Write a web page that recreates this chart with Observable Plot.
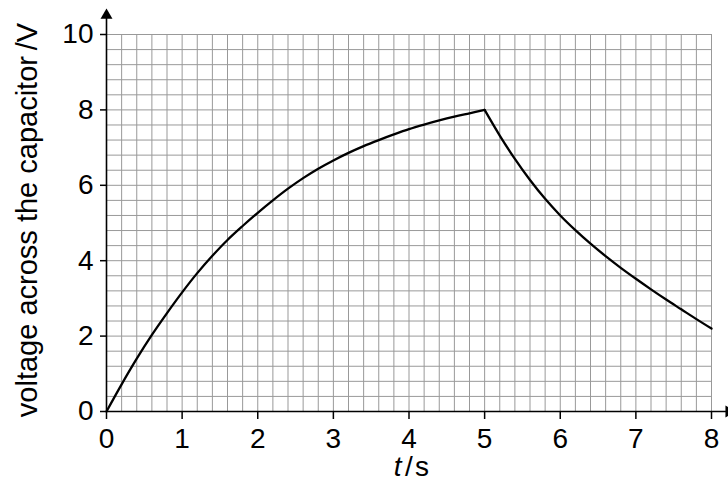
<!DOCTYPE html>
<html>
<head>
<meta charset="utf-8">
<script src="https://cdn.jsdelivr.net/npm/d3@7"></script>
<script src="https://cdn.jsdelivr.net/npm/@observablehq/plot@0.6"></script>
<style>
  html, body { margin: 0; padding: 0; background: #ffffff; overflow: hidden; }
</style>
</head>
<body>
<div id="chart"></div>
<script>
// Charging phase (t in s, V in volts)
const T_CHARGE = [0, 0.2, 0.4, 0.6, 0.8, 1.0, 1.2, 1.4, 1.6, 1.8, 2.0, 2.2, 2.4, 2.6, 2.8, 3.0, 3.2, 3.4, 3.6, 3.8, 4.0, 4.2, 4.4, 4.6, 4.8, 5.0];
const V_CHARGE = [0, 0.72, 1.4, 2.03, 2.61, 3.16, 3.67, 4.13, 4.55, 4.92, 5.27, 5.6, 5.91, 6.19, 6.44, 6.66, 6.86, 7.04, 7.2, 7.35, 7.49, 7.61, 7.72, 7.82, 7.91, 8.0];
// Discharging phase
const T_DISCHARGE = [5.0, 5.2, 5.4, 5.6, 5.8, 6.0, 6.2, 6.4, 6.6, 6.8, 7.0, 7.2, 7.4, 7.6, 7.8, 8.0];
const V_DISCHARGE = [8.0, 7.32, 6.7, 6.14, 5.64, 5.2, 4.81, 4.45, 4.12, 3.81, 3.52, 3.24, 2.97, 2.71, 2.45, 2.2];

const X_TICKS = [0, 1, 2, 3, 4, 5, 6, 7, 8];
const Y_TICKS = [0, 2, 4, 6, 8, 10];
const X_LABEL_T = "t";
const X_LABEL_UNIT = "/\u200As";
const Y_LABEL = "voltage across the capacitor\u2009/V";

const X_GRID = d3.range(0, 41).map(i => i * 0.2);   // every 0.2 s
const Y_GRID = d3.range(0, 26).map(i => i * 0.4);   // every 0.4 V

const points = [
  ...T_CHARGE.map((t, i) => ({t, v: V_CHARGE[i], phase: "charge"})),
  ...T_DISCHARGE.map((t, i) => ({t, v: V_DISCHARGE[i], phase: "discharge"}))
];

const FONT = "'Liberation Sans', Arial, Helvetica, sans-serif";
const GRID = "#999999";

const chart = Plot.plot({
  width: 728,
  height: 494,
  marginLeft: 106,
  marginRight: 17,
  marginTop: 34,
  marginBottom: 83,
  style: {fontFamily: FONT, fontSize: "28px", background: "#ffffff", color: "#000000", overflow: "hidden"},
  x: {domain: [0, 8]},
  y: {domain: [0, 10]},
  marks: [
    Plot.ruleX(X_GRID, {y1: 0, y2: 10, stroke: GRID, strokeWidth: 1}),
    Plot.ruleY(Y_GRID, {x1: 0, x2: 8, stroke: GRID, strokeWidth: 1}),
    // axis lines
    Plot.ruleY([0], {x1: 0, x2: 8.22, stroke: "#000", strokeWidth: 1.6}),
    Plot.ruleX([0], {y1: 0, y2: 10.48, stroke: "#000", strokeWidth: 1.6}),
    // arrow heads
    Plot.dot([{t: 0, v: 10.51}], {x: "t", y: "v", symbol: "triangle2", r: 5.7, fill: "#000", stroke: null}),
    Plot.dot([{t: 8.23, v: 0}], {x: "t", y: "v", symbol: "triangle2", r: 5.7, fill: "#000", stroke: null, rotate: 90}),
    // axes
    Plot.axisX({ticks: X_TICKS, tickSize: 8, tickPadding: 9, strokeWidth: 1.5, fontSize: 28, label: null, tickFormat: d => String(d)}),
    Plot.axisY({ticks: Y_TICKS, tickSize: 6, tickPadding: 7, strokeWidth: 1.5, fontSize: 28, label: null, tickFormat: d => String(d)}),
    // curve
    Plot.line(points, {x: "t", y: "v", z: "phase", stroke: "#000", strokeWidth: 2.3, curve: "catmull-rom"}),
    // axis labels
    Plot.text([X_LABEL_T], {frameAnchor: "bottom", dx: -7.5, dy: 64, textAnchor: "end", fontStyle: "italic", fontSize: 28, fill: "#000"}),
    Plot.text([X_LABEL_UNIT], {frameAnchor: "bottom", dx: -4, dy: 64, textAnchor: "start", fontSize: 28, fill: "#000"}),
    Plot.text([Y_LABEL], {frameAnchor: "left", dx: -78.5, dy: -3, rotate: -90, textAnchor: "middle", fontSize: 29, fill: "#000"})
  ]
});

document.getElementById("chart").appendChild(chart);
</script>
</body>
</html>
